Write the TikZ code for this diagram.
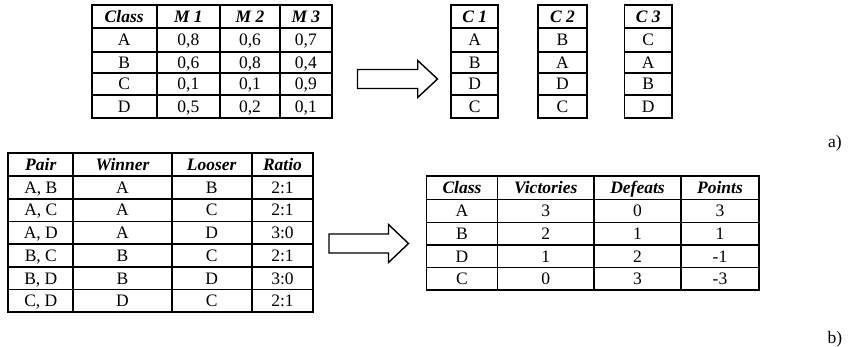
\documentclass[tikz,border=0pt]{standalone}
\usepackage{fontspec}
\setmainfont{Liberation Serif}
\newcommand\TRow[7]{%
  \node[cell,#1] (#2a) at (\xa,#3) {#4};
  \node[cell,#1] (#2b) at (\xb,#3) {#5};
  \node[cell,#1] (#2c) at (\xc,#3) {#6};
  \node[cell,#1] (#2d) at (\xd,#3) {#7};}
\begin{document}
\begin{tikzpicture}[x=1pt,y=-1pt,
  font=\fontsize{17.5}{20}\selectfont,
  grid/.style={line width=1.8pt},
  cell/.style={inner sep=0pt,text height=11.6pt,text depth=0pt,anchor=center},
  hd/.style={font=\fontsize{17.5}{20}\selectfont\bfseries\itshape},
  plain/.style={},
  blockarrow/.style={draw,line width=1.4pt,fill=white,line join=miter}]
\useasboundingbox (0,0) rectangle (849,347);

% ---------- table 1 ----------
\draw[grid] (91.7,5) rectangle (331.7,118.3);
\foreach \y in {28.3,51.7,73.3,95} \draw[grid] (91.7,\y) -- (331.7,\y);
\foreach \x in {156.7,220,280} \draw[grid] (\x,5) -- (\x,118.3);
\def\xa{124.2}\def\xb{188.35}\def\xc{250}\def\xd{305.85}
\TRow{hd}{ta}{16.65}{Class}{M 1}{M 2}{M 3}
\TRow{plain}{tb}{40}{A}{0,8}{0,6}{0,7}
\TRow{plain}{tc}{62.5}{B}{0,6}{0,8}{0,4}
\TRow{plain}{td}{84.15}{C}{0,1}{0,1}{0,9}
\TRow{plain}{te}{106.65}{D}{0,5}{0,2}{0,1}

% ---------- arrow 1 ----------
\draw[blockarrow] (357.5,69.5) -- (417.7,69.5) -- (417.7,60.5) -- (437.5,79)
  -- (417.7,97.5) -- (417.7,88.5) -- (357.5,88.5) -- cycle;

% ---------- C tables ----------
\foreach \l/\r in {451/498.3, 538.3/586.7, 624.5/672}{
  \draw[grid] (\l,5) rectangle (\r,118.3);
  \foreach \y in {28.3,51.7,73.3,95} \draw[grid] (\l,\y) -- (\r,\y);
}
\node[cell,hd] (c1h) at (474.7,16.65) {C 1};
\foreach \t/\y [count=\i] in {A/40, B/62.5, D/84.15, C/106.65}
  \node[cell] (c1r\i) at (474.7,\y) {\t};
\node[cell,hd] (c2h) at (562.5,16.65) {C 2};
\foreach \t/\y [count=\i] in {B/40, A/62.5, D/84.15, C/106.65}
  \node[cell] (c2r\i) at (562.5,\y) {\t};
\node[cell,hd] (c3h) at (648.25,16.65) {C 3};
\foreach \t/\y [count=\i] in {C/40, A/62.5, B/84.15, D/106.65}
  \node[cell] (c3r\i) at (648.25,\y) {\t};

\node (la) at (835,143) {a)};

% ---------- table 3 ----------
\draw[grid] (8.3,153.3) rectangle (313.3,312.3);
\foreach \y in {176.01,198.73,221.44,244.16,266.87,289.59} \draw[grid] (8.3,\y) -- (313.3,\y);
\foreach \x in {73.3,171.7,251.7} \draw[grid] (\x,153.3) -- (\x,312.3);
\def\xa{40.8}\def\xb{122.5}\def\xc{211.7}\def\xd{282.5}
\TRow{hd}{pa}{164.66}{Pair}{Winner}{Looser}{Ratio}
\TRow{plain}{pb}{187.37}{A, B}{A}{B}{2:1}
\TRow{plain}{pc}{210.09}{A, C}{A}{C}{2:1}
\TRow{plain}{pd}{232.8}{A, D}{A}{D}{3:0}
\TRow{plain}{pe}{255.51}{B, C}{B}{C}{2:1}
\TRow{plain}{pf}{278.23}{B, D}{B}{D}{3:0}
\TRow{plain}{pg}{300.94}{C, D}{D}{C}{2:1}

% ---------- arrow 2 ----------
\draw[blockarrow] (329,234) -- (388.5,234) -- (388.5,224.5) -- (408.5,243.5)
  -- (388.5,262.5) -- (388.5,253) -- (329,253) -- cycle;

% ---------- table 4 ----------
\draw[grid] (426.5,176) rectangle (759,290);
\foreach \y in {199.5,222.5,245,267.5} \draw[grid] (426.5,\y) -- (759,\y);
\foreach \x in {497.5,594,681} \draw[grid] (\x,176) -- (\x,290);
\def\xa{462}\def\xb{545.75}\def\xc{637.5}\def\xd{720}
\TRow{hd}{va}{187.75}{Class}{Victories}{Defeats}{Points}
\TRow{plain}{vb}{211}{A}{3}{0}{3}
\TRow{plain}{vc}{233.75}{B}{2}{1}{1}
\TRow{plain}{vd}{256.25}{D}{1}{2}{-1}
\TRow{plain}{ve}{278.75}{C}{0}{3}{-3}

\node (lb) at (835,339) {b)};
\end{tikzpicture}
\end{document}
